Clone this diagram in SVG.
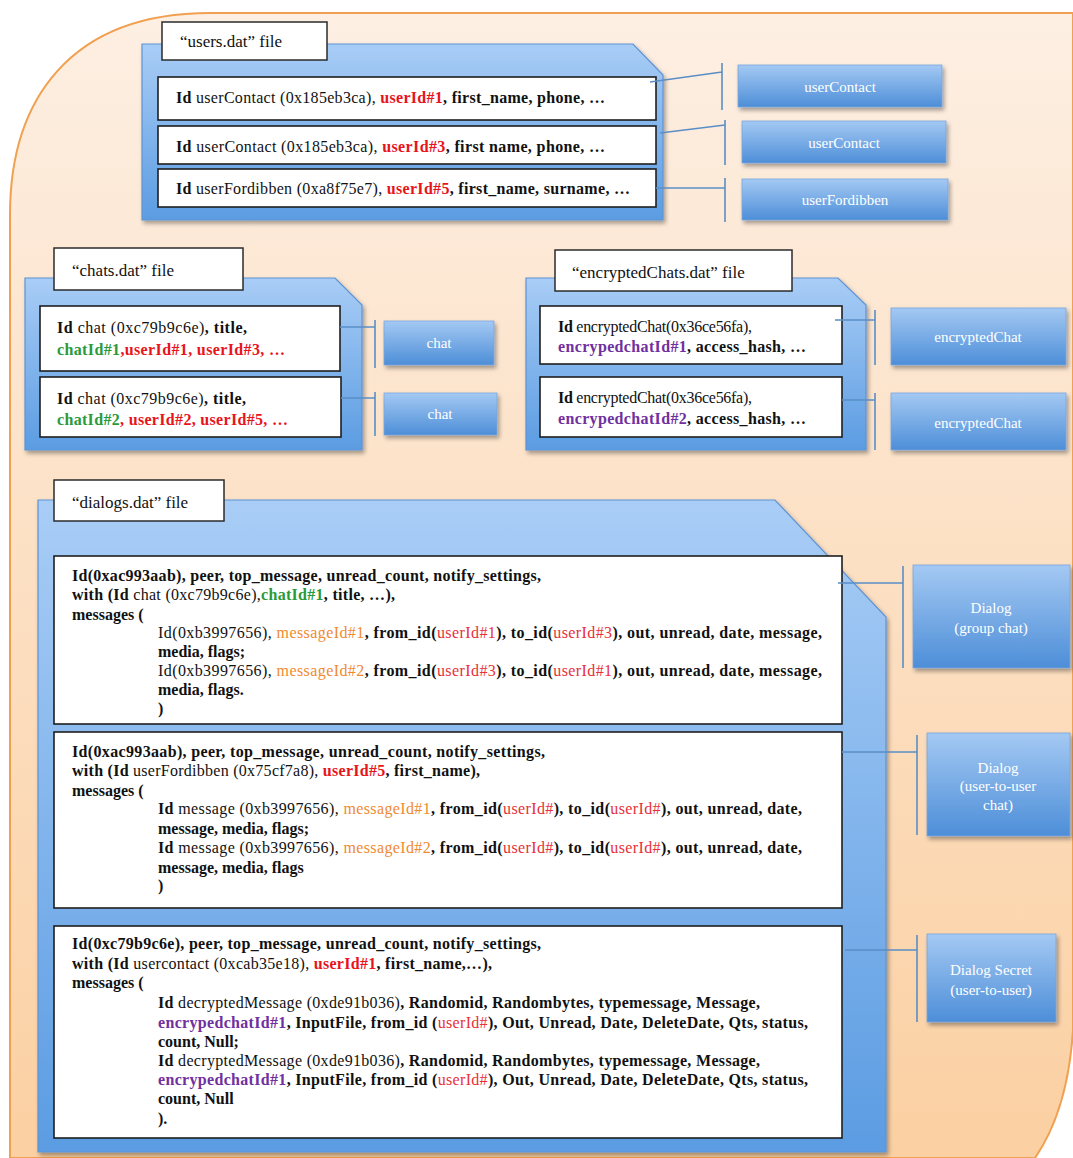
<svg xmlns="http://www.w3.org/2000/svg" width="1073" height="1158" viewBox="0 0 1073 1158">
<defs>
<linearGradient id="bg" x1="0" y1="0" x2="0" y2="1"><stop offset="0" stop-color="#fdefe3"/><stop offset="1" stop-color="#fbd0a2"/></linearGradient>
<linearGradient id="folder" x1="0" y1="0" x2="0" y2="1"><stop offset="0" stop-color="#a9cdf6"/><stop offset="1" stop-color="#5b9ce2"/></linearGradient>
<linearGradient id="node" x1="0" y1="0" x2="0" y2="1"><stop offset="0" stop-color="#a4c9f3"/><stop offset="1" stop-color="#4d8ed8"/></linearGradient>
<filter id="sh" x="-10%" y="-10%" width="130%" height="130%"><feDropShadow dx="2" dy="3" stdDeviation="2" flood-color="#000" flood-opacity="0.35"/></filter>
</defs>
<style>
.folder{fill:url(#folder);stroke:#5e93d4;stroke-width:1.2;filter:url(#sh)}
.label{fill:#fff;stroke:#2b2b2b;stroke-width:1.5}
.row{fill:#fff;stroke:#1e1e1e;stroke-width:1.6}
.node{fill:url(#node);stroke:#78a6dc;stroke-width:0.8;filter:url(#sh)}
.lt{font-family:"Liberation Serif","Times New Roman",serif;font-size:17px;fill:#111}
.t{font-family:"Liberation Serif","Times New Roman",serif;font-size:16px;font-weight:bold;fill:#111}
.n{font-weight:normal}
.nt{font-family:"Liberation Serif","Times New Roman",serif;font-size:15px;fill:#fff;text-anchor:middle}
.red{fill:#e8141c}
.lred{fill:#e83038;font-weight:normal}
.grn{fill:#2a9a3a}
.pur{fill:#7030a0}
.org{fill:#f08a30;font-weight:normal}
.c{fill:none;stroke:#5a8ec6;stroke-width:1.6}
</style>
<g id="background">
<path d="M10,1158 V215 C10,100 70,13 210,13 H1073 V1030 Q1068,1110 1035,1158 Z" fill="url(#bg)" stroke="#f0a050" stroke-width="2"/>
</g>

<g id="users-file">
<path class="folder" d="M142,44 H633 L663,75 V220 H142 Z"/>
<rect class="label" x="162" y="22" width="165" height="38"/>
<text class="lt" x="180" y="47">“users.dat” file</text>
<rect class="row" x="158" y="77" width="498" height="43"/>
<text class="t" x="176" y="103" textLength="429" lengthAdjust="spacing">Id<tspan class="n"> userContact (0x185eb3ca), </tspan><tspan class="red">userId#1</tspan>, first_name, phone, …</text>
<rect class="row" x="158" y="126" width="498" height="38"/>
<text class="t" x="176" y="152" textLength="429" lengthAdjust="spacing">Id<tspan class="n"> userContact (0x185eb3ca), </tspan><tspan class="red">userId#3</tspan>, first  name, phone, …</text>
<rect class="row" x="158" y="169" width="498" height="38"/>
<text class="t" x="176" y="194" textLength="454" lengthAdjust="spacing">Id<tspan class="n"> userFordibben (0xa8f75e7), </tspan><tspan class="red">userId#5</tspan>, first_name, surname, …</text>
</g>

<g id="chats-file">
<path class="folder" d="M25,278 H335 L362,305 V450 H25 Z"/>
<rect class="label" x="54" y="248" width="189" height="42"/>
<text class="lt" x="72" y="276">“chats.dat” file</text>
<rect class="row" x="40" y="306" width="300" height="65"/>
<text class="t" x="57" y="333" textLength="190" lengthAdjust="spacing">Id<tspan class="n"> chat (0xc79b9c6e)</tspan>, title,</text>
<text class="t" x="57" y="355" textLength="228" lengthAdjust="spacing"><tspan class="grn">chatId#1</tspan><tspan class="red">,userId#1, userId#3, …</tspan></text>
<rect class="row" x="40" y="377" width="301" height="60"/>
<text class="t" x="57" y="404" textLength="189" lengthAdjust="spacing">Id<tspan class="n"> chat (0xc79b9c6e)</tspan>, title,</text>
<text class="t" x="57" y="425" textLength="231" lengthAdjust="spacing"><tspan class="grn">chatId#2</tspan><tspan class="red">, userId#2, userId#5, …</tspan></text>
</g>

<g id="encryptedChats-file">
<path class="folder" d="M526,278 H838 L866,305 V450 H526 Z"/>
<rect class="label" x="555" y="250" width="237" height="41"/>
<text class="lt" x="572" y="278">“encryptedChats.dat” file</text>
<rect class="row" x="540" y="306" width="302" height="58"/>
<text class="t" x="558" y="332" textLength="194" lengthAdjust="spacing">Id<tspan class="n"> encryptedChat(0x36ce56fa),</tspan></text>
<text class="t" x="558" y="352" textLength="248" lengthAdjust="spacing"><tspan class="pur">encrypedchatId#1</tspan>, access_hash, …</text>
<rect class="row" x="540" y="377" width="302" height="60"/>
<text class="t" x="558" y="403" textLength="194" lengthAdjust="spacing">Id<tspan class="n"> encryptedChat(0x36ce56fa),</tspan></text>
<text class="t" x="558" y="424" textLength="248" lengthAdjust="spacing"><tspan class="pur">encrypedchatId#2</tspan>, access_hash, …</text>
</g>

<g id="dialogs-file">
<path class="folder" d="M38,500 H775 L886,617 V1152 H38 Z"/>
<rect class="label" x="54" y="480" width="170" height="41"/>
<text class="lt" x="72" y="508">“dialogs.dat” file</text>

<rect class="row" x="54" y="556" width="788" height="168"/>
<text class="t" x="72" y="581" textLength="469" lengthAdjust="spacing">Id(0xac993aab), peer, top_message, unread_count, notify_settings,</text>
<text class="t" x="72" y="600" textLength="323" lengthAdjust="spacing">with (Id <tspan class="n">chat (0xc79b9c6e),</tspan><tspan class="grn">chatId#1</tspan>, title, …),</text>
<text class="t" x="72" y="620">messages (</text>
<text class="t" x="158" y="638" textLength="664" lengthAdjust="spacing"><tspan class="n">Id(0xb3997656), </tspan><tspan class="org">messageId#1</tspan>, from_id(<tspan class="lred">userId#1</tspan>), to_id(<tspan class="lred">userId#3</tspan>),  out, unread, date, message,</text>
<text class="t" x="158" y="657">media, flags;</text>
<text class="t" x="158" y="676" textLength="664" lengthAdjust="spacing"><tspan class="n">Id(0xb3997656), </tspan><tspan class="org">messageId#2</tspan>, from_id(<tspan class="lred">userId#3</tspan>), to_id(<tspan class="lred">userId#1</tspan>),  out, unread, date, message,</text>
<text class="t" x="158" y="695">media, flags.</text>
<text class="t" x="158" y="714">)</text>

<rect class="row" x="54" y="732" width="788" height="176"/>
<text class="t" x="72" y="757" textLength="473" lengthAdjust="spacing">Id(0xac993aab), peer, top_message, unread_count, notify_settings,</text>
<text class="t" x="72" y="776" textLength="408" lengthAdjust="spacing">with (Id <tspan class="n">userFordibben (0x75cf7a8), </tspan><tspan class="red">userId#5</tspan>, first_name),</text>
<text class="t" x="72" y="796">messages (</text>
<text class="t" x="158" y="814" textLength="644" lengthAdjust="spacing">Id <tspan class="n">message (0xb3997656), </tspan><tspan class="org">messageId#1</tspan>, from_id(<tspan class="lred">userId#</tspan>), to_id(<tspan class="lred">userId#</tspan>),  out, unread, date,</text>
<text class="t" x="158" y="834">message, media, flags;</text>
<text class="t" x="158" y="853" textLength="644" lengthAdjust="spacing">Id <tspan class="n">message (0xb3997656), </tspan><tspan class="org">messageId#2</tspan>, from_id(<tspan class="lred">userId#</tspan>), to_id(<tspan class="lred">userId#</tspan>),  out, unread, date,</text>
<text class="t" x="158" y="873">message, media, flags</text>
<text class="t" x="158" y="891">)</text>

<rect class="row" x="54" y="926" width="788" height="212"/>
<text class="t" x="72" y="949" textLength="469" lengthAdjust="spacing">Id(0xc79b9c6e), peer, top_message, unread_count, notify_settings,</text>
<text class="t" x="72" y="969" textLength="420" lengthAdjust="spacing">with (Id <tspan class="n">usercontact (0xcab35e18), </tspan><tspan class="red">userId#1</tspan>, first_name,…),</text>
<text class="t" x="72" y="988">messages (</text>
<text class="t" x="158" y="1008" textLength="602" lengthAdjust="spacing">Id <tspan class="n">decryptedMessage (0xde91b036)</tspan>, Randomid, Randombytes, typemessage, Message,</text>
<text class="t" x="158" y="1028" textLength="650" lengthAdjust="spacing"><tspan class="pur">encrypedchatId#1</tspan>, InputFile, from_id (<tspan class="lred">userId#</tspan>), Out, Unread, Date, DeleteDate, Qts, status,</text>
<text class="t" x="158" y="1047">count, Null;</text>
<text class="t" x="158" y="1066" textLength="602" lengthAdjust="spacing">Id <tspan class="n">decryptedMessage (0xde91b036)</tspan>, Randomid, Randombytes, typemessage, Message,</text>
<text class="t" x="158" y="1085" textLength="650" lengthAdjust="spacing"><tspan class="pur">encrypedchatId#1</tspan>, InputFile, from_id (<tspan class="lred">userId#</tspan>), Out, Unread, Date, DeleteDate, Qts, status,</text>
<text class="t" x="158" y="1104">count, Null</text>
<text class="t" x="158" y="1124">).</text>
</g>

<g id="connectors">
<path class="c" d="M650,82 L722,72 M722,63 V110"/>
<path class="c" d="M660,133 L725,125 M725,120 V165"/>
<path class="c" d="M656,188 H725 M725,178 V222"/>
<path class="c" d="M340,327 H375 M375,320 V368"/>
<path class="c" d="M341,398 H375 M375,392 V436"/>
<path class="c" d="M835,320 H875 M875,310 V365"/>
<path class="c" d="M842,400 H875 M875,393 V450"/>
<path class="c" d="M838,583 H903 M903,566 V668"/>
<path class="c" d="M842,752 H917 M917,735 V835"/>
<path class="c" d="M845,950 H917 M917,935 V1022"/>
</g>

<g id="node-userContact-1"><rect class="node" x="738" y="65" width="204" height="42"/><text class="nt" x="840" y="92">userContact</text></g>
<g id="node-userContact-2"><rect class="node" x="742" y="121" width="204" height="42"/><text class="nt" x="844" y="148">userContact</text></g>
<g id="node-userFordibben"><rect class="node" x="742" y="179" width="206" height="41"/><text class="nt" x="845" y="205">userFordibben</text></g>
<g id="node-chat-1"><rect class="node" x="384" y="321" width="110" height="44"/><text class="nt" x="439" y="348">chat</text></g>
<g id="node-chat-2"><rect class="node" x="384" y="393" width="113" height="42"/><text class="nt" x="440" y="419">chat</text></g>
<g id="node-encryptedChat-1"><rect class="node" x="891" y="308" width="175" height="57"/><text class="nt" x="978" y="342">encryptedChat</text></g>
<g id="node-encryptedChat-2"><rect class="node" x="891" y="393" width="175" height="57"/><text class="nt" x="978" y="428">encryptedChat</text></g>
<g id="node-dialog-group"><rect class="node" x="913" y="565" width="157" height="103"/><text class="nt" x="991" y="613">Dialog</text><text class="nt" x="991" y="633">(group chat)</text></g>
<g id="node-dialog-user"><rect class="node" x="927" y="733" width="143" height="103"/><text class="nt" x="998" y="773">Dialog</text><text class="nt" x="998" y="791">(user-to-user</text><text class="nt" x="998" y="810">chat)</text></g>
<g id="node-dialog-secret"><rect class="node" x="927" y="934" width="129" height="88"/><text class="nt" x="991" y="975">Dialog Secret</text><text class="nt" x="991" y="995">(user-to-user)</text></g>
</svg>
